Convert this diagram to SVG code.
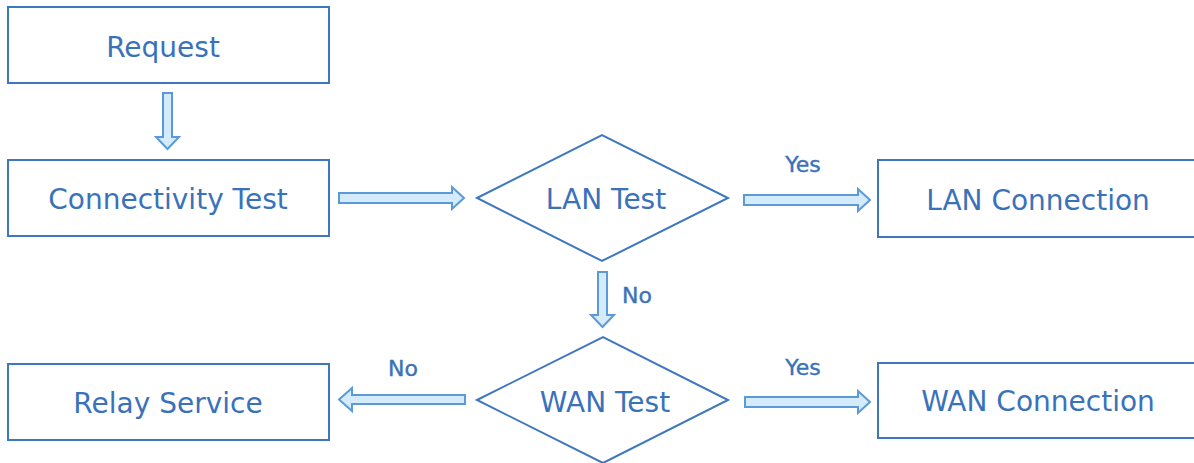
<svg xmlns="http://www.w3.org/2000/svg" width="1194" height="463" viewBox="0 0 1194 463">
  <style>
    .box { fill: #ffffff; stroke: #3f77bf; stroke-width: 2; }
    .label { font-family: "DejaVu Sans", Verdana, sans-serif; font-size: 28px; fill: #3a72ba; text-anchor: middle; }
    .edge-label { font-family: "DejaVu Sans", Verdana, sans-serif; font-size: 22px; fill: #3a72ba; stroke: #3a72ba; stroke-width: 0.4; text-anchor: middle; }
    .arrow { fill: #d3ebfa; stroke: #5b9ad6; stroke-width: 2; stroke-linejoin: miter; }
  </style>
  <rect width="1194" height="463" fill="#ffffff"/>

  <g id="request">
    <rect class="box" x="8" y="7" width="321" height="76"/>
    <text class="label" x="163" y="57">Request</text>
  </g>

  <g id="connectivity-test">
    <rect class="box" x="8" y="160" width="321" height="76"/>
    <text class="label" x="168" y="209">Connectivity Test</text>
  </g>

  <g id="lan-test">
    <polygon class="box" points="477,198 602,135 728,198 602,261"/>
    <text class="label" x="606" y="209">LAN Test</text>
  </g>

  <g id="lan-connection">
    <rect class="box" x="878" y="160" width="330" height="77"/>
    <text class="label" x="1038" y="210">LAN Connection</text>
  </g>

  <g id="wan-test">
    <polygon class="box" points="477,400 603,337 728,400 603,463"/>
    <text class="label" x="605" y="412">WAN Test</text>
  </g>

  <g id="wan-connection">
    <rect class="box" x="878" y="363" width="330" height="75"/>
    <text class="label" x="1038" y="411">WAN Connection</text>
  </g>

  <g id="relay-service">
    <rect class="box" x="8" y="364" width="321" height="76"/>
    <text class="label" x="168" y="413">Relay Service</text>
  </g>

  <g id="connectors">
    <!-- Request to Connectivity Test -->
    <polygon class="arrow" points="163,93 172,93 172,137 179,137 167.5,149 156,137 163,137"/>
    <!-- Connectivity Test to LAN Test -->
    <polygon class="arrow" points="339,193 452,193 452,187 464,198 452,209 452,203 339,203"/>
    <!-- LAN Test yes -->
    <polygon class="arrow" points="744,195 858,195 858,189 870,200 858,211 858,205 744,205"/>
    <text class="edge-label" x="803" y="172">Yes</text>
    <!-- LAN Test no -->
    <polygon class="arrow" points="598,272 607,272 607,315 614,315 602.5,327 591,315 598,315"/>
    <text class="edge-label" x="637" y="303">No</text>
    <!-- WAN Test no -->
    <polygon class="arrow" points="465,395 352,395 352,388 339,399.5 352,411 352,404 465,404"/>
    <text class="edge-label" x="403" y="376">No</text>
    <!-- WAN Test yes -->
    <polygon class="arrow" points="745,397 858,397 858,391 870,402 858,413 858,407 745,407"/>
    <text class="edge-label" x="803" y="375">Yes</text>
  </g>
</svg>
